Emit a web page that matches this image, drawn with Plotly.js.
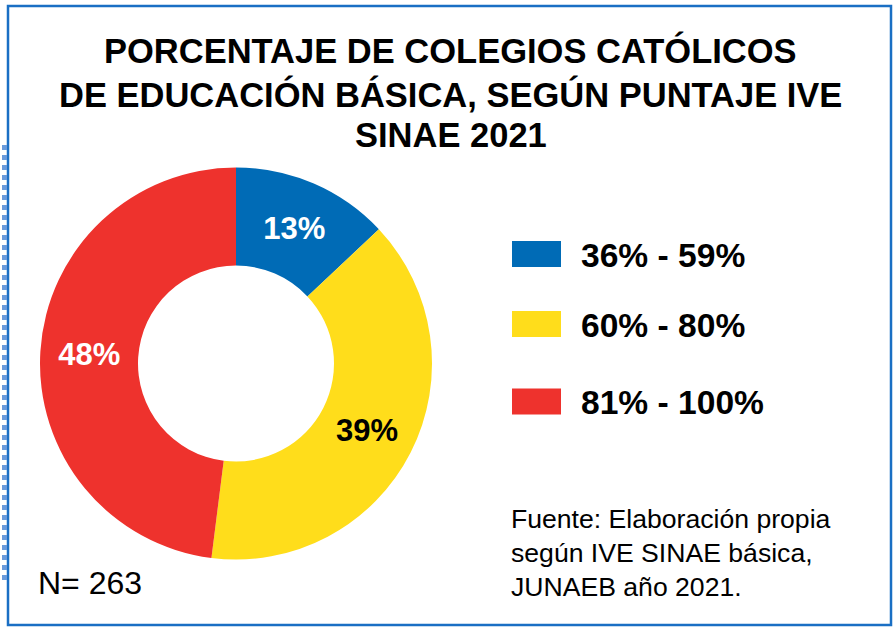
<!DOCTYPE html>
<html>
<head>
<meta charset="utf-8">
<script src="https://cdn.plot.ly/plotly-3.0.1.min.js"></script>
<style>html,body{margin:0;padding:0;background:#fff;}#chart{width:894px;height:627px;}</style>
</head>
<body>
<div id="chart"></div>
<script>
const categories = ["36% - 59%", "60% - 80%", "81% - 100%"];
const values = [13, 39, 48];
const colors = ["#006BB6", "#FFDD1B", "#EE322D"];
const textColors = ["#ffffff", "#000000", "#ffffff"];
const titleLines = ["PORCENTAJE DE COLEGIOS CATÓLICOS", "DE EDUCACIÓN BÁSICA, SEGÚN PUNTAJE IVE", "SINAE 2021"];
const sampleNote = "N= 263";
const sourceLines = ["Fuente: Elaboración propia", "según IVE SINAE básica,", "JUNAEB año 2021."];

const W = 894, H = 627;
const px = x => x / W;
const py = y => 1 - y / H;

const FONT = "Liberation Sans, Arial, Helvetica, sans-serif";

const trace = {
  type: "pie",
  labels: categories,
  values: values,
  hole: 0.5,
  sort: false,
  direction: "clockwise",
  rotation: 0,
  marker: {colors: colors, line: {width: 0}},
  texttemplate: "<b>%{percent:.0%}</b>",
  textinfo: "percent",
  textposition: "inside",
  insidetextorientation: "horizontal",
  insidetextfont: {family: FONT, size: 31, color: textColors},
  hoverinfo: "label+percent",
  domain: {x: [px(40), px(432)], y: [py(560), py(167)]},
  showlegend: false
};

const shapes = [
  {type: "rect", xref: "paper", yref: "paper", x0: px(8), x1: px(891), y0: py(625), y1: py(6),
   line: {color: "#1A6FC4", width: 2.5}, fillcolor: "rgba(0,0,0,0)"},
  {type: "line", xref: "paper", yref: "paper", x0: px(4.5), x1: px(4.5), y0: py(145), y1: py(585),
   line: {color: "#6A9BDB", width: 5, dash: "5px,5px"}}
];
const annotations = [];

// custom legend
const legendY = [254, 324, 401.5];
categories.forEach((c, i) => {
  shapes.push({type: "rect", xref: "paper", yref: "paper",
    x0: px(512), x1: px(561), y0: py(legendY[i] + 13), y1: py(legendY[i] - 13),
    fillcolor: colors[i], line: {width: 0}});
  annotations.push({xref: "paper", yref: "paper", x: px(579), y: py(legendY[i] + 1),
    xanchor: "left", yanchor: "middle", showarrow: false,
    text: "<b>" + c + "</b>", font: {family: FONT, size: 33.6, color: "#000"}});
});

// title lines
const titleY = [51, 94, 135];
titleLines.forEach((t, i) => {
  annotations.push({xref: "paper", yref: "paper", x: px(451), y: py(titleY[i]),
    xanchor: "center", yanchor: "middle", showarrow: false,
    text: "<b>" + t + "</b>", font: {family: FONT, size: 34.5, color: "#000"}});
});

annotations.push({xref: "paper", yref: "paper", x: px(36), y: py(583),
  xanchor: "left", yanchor: "middle", showarrow: false,
  text: sampleNote, font: {family: FONT, size: 32, color: "#000"}});

const srcY = [519, 553, 587];
sourceLines.forEach((t, i) => {
  annotations.push({xref: "paper", yref: "paper", x: px(509), y: py(srcY[i]),
    xanchor: "left", yanchor: "middle", showarrow: false,
    text: t, font: {family: FONT, size: 26.6, color: "#000"}});
});

const layout = {
  width: W, height: H,
  margin: {l: 0, r: 0, t: 0, b: 0},
  paper_bgcolor: "#ffffff",
  plot_bgcolor: "#ffffff",
  shapes: shapes,
  annotations: annotations,
  showlegend: false
};

Plotly.newPlot("chart", [trace], layout, {displayModeBar: false, staticPlot: true});
</script>
</body>
</html>
